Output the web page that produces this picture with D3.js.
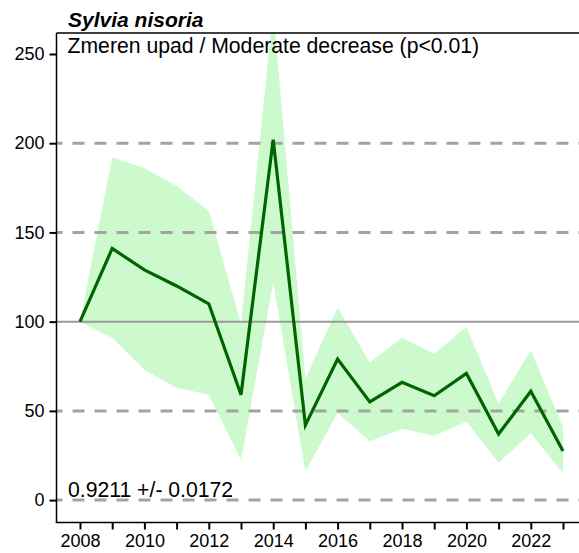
<!DOCTYPE html>
<html>
<head>
<meta charset="utf-8">
<script src="https://cdn.jsdelivr.net/npm/d3@7"></script>
<style>
  html, body { margin: 0; padding: 0; background: #fff; }
  svg { display: block; }
  text { font-family: "Liberation Sans", Arial, sans-serif; fill: #000; }
</style>
</head>
<body>
<svg id="chart" width="579" height="553"></svg>
<script>
const years  = [2008, 2009, 2010, 2011, 2012, 2013, 2014, 2015, 2016, 2017, 2018, 2019, 2020, 2021, 2022, 2023];
const index  = [100, 141, 129, 120, 110, 59, 202, 42, 79, 55, 66, 58.5, 71, 37, 61, 27.5];
const upper  = [100, 192, 186, 176, 162, 99, 275, 68, 108, 77, 91, 82, 97, 54, 84, 41];
const lower  = [100, 91, 73, 63, 59, 22.5, 122, 16, 49, 33, 40, 36, 44, 21, 37.5, 15];
const yTicks = [0, 50, 100, 150, 200, 250];
const dashedLevels = [0, 50, 150, 200];
const baseLevel = 100;
const xTickYears = years;
const xLabelYears = [2008, 2010, 2012, 2014, 2016, 2018, 2020, 2022];
const title = "Sylvia nisoria";
const subtitle = "Zmeren upad / Moderate decrease (p<0.01)";
const trendText = "0.9211 +/- 0.0172";

const svg = d3.select("#chart");
const plot = { left: 56.5, top: 33, right: 579, bottom: 522.5 };

const x = d3.scaleLinear().domain([2008, 2023]).range([80, 563]);
const y = d3.scaleLinear().domain([0, 250]).range([500.1, 54]);

svg.append("defs").append("clipPath").attr("id", "clip")
  .append("rect")
  .attr("x", plot.left).attr("y", plot.top)
  .attr("width", plot.right - plot.left).attr("height", plot.bottom - plot.top);

const data = years.map((yr, i) => ({ yr, v: index[i], lo: lower[i], hi: upper[i] }));

const g = svg.append("g").attr("clip-path", "url(#clip)");

// CI band
g.append("path")
  .datum(data)
  .attr("fill", "#ccfacc")
  .attr("d", d3.area().x(d => x(d.yr)).y0(d => y(d.lo)).y1(d => y(d.hi)));

// dashed reference lines
g.selectAll("line.dash").data(dashedLevels).enter().append("line")
  .attr("class", "dash")
  .attr("x1", plot.left).attr("x2", plot.right)
  .attr("y1", d => y(d)).attr("y2", d => y(d))
  .attr("stroke", "#a3a3a3").attr("stroke-width", 3)
  .attr("stroke-dasharray", "12,10").attr("stroke-dashoffset", 6);

// solid baseline at 100
g.append("line")
  .attr("x1", plot.left).attr("x2", plot.right)
  .attr("y1", y(baseLevel)).attr("y2", y(baseLevel))
  .attr("stroke", "#9a9a9a").attr("stroke-width", 2);

// main line
g.append("path")
  .datum(data)
  .attr("fill", "none")
  .attr("stroke", "#006400")
  .attr("stroke-width", 3.2)
  .attr("stroke-linejoin", "miter")
  .attr("d", d3.line().x(d => x(d.yr)).y(d => y(d.v)));

// frame: left, top
svg.append("line").attr("x1", plot.left).attr("x2", plot.left)
  .attr("y1", plot.top).attr("y2", plot.bottom)
  .attr("stroke", "#000").attr("stroke-width", 1.5);
svg.append("line").attr("x1", plot.left).attr("x2", plot.right)
  .attr("y1", plot.top).attr("y2", plot.top)
  .attr("stroke", "#000").attr("stroke-width", 1.5);

// y axis
const yAxis = d3.axisLeft(y).tickValues(yTicks).tickSize(7).tickPadding(5);
const ya = svg.append("g").attr("transform", `translate(${plot.left},0)`).call(yAxis);
ya.select(".domain").remove();
ya.selectAll(".tick line").attr("stroke", "#000").attr("stroke-width", 2);
ya.selectAll(".tick text").attr("font-size", 18).attr("font-family", "Liberation Sans, Arial, sans-serif").attr("fill", "#000");

// x axis
const xAxis = d3.axisBottom(x).tickValues(xTickYears).tickSize(7).tickPadding(5)
  .tickFormat(d => xLabelYears.includes(d) ? String(d) : "");
const xa = svg.append("g").attr("transform", `translate(0,${plot.bottom})`).call(xAxis);
xa.select(".domain").remove();
xa.selectAll(".tick line").attr("stroke", "#000").attr("stroke-width", 2);
xa.selectAll(".tick text").attr("font-size", 18).attr("font-family", "Liberation Sans, Arial, sans-serif").attr("fill", "#000");
svg.append("line").attr("x1", plot.left - 0.75).attr("x2", plot.right)
  .attr("y1", plot.bottom).attr("y2", plot.bottom)
  .attr("stroke", "#000").attr("stroke-width", 1.5);

// texts
svg.append("text").attr("x", 68).attr("y", 27)
  .attr("font-size", 21).attr("font-weight", "bold").attr("font-style", "italic")
  .text(title);
svg.append("text").attr("x", 67.5).attr("y", 52.7)
  .attr("font-size", 21.2).text(subtitle);
svg.append("text").attr("x", 68).attr("y", 496.7)
  .attr("font-size", 21.2).text(trendText);
</script>
</body>
</html>
